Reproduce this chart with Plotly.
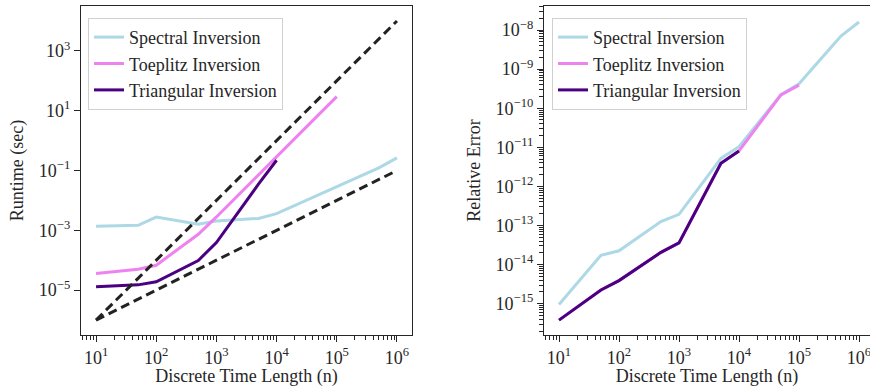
import plotly.graph_objects as go

# ---------------- data ----------------
n = [10, 50, 100, 500, 1000, 5000, 10000, 50000, 100000, 500000, 1000000]

runtime_spectral = [1.36e-3, 1.47e-3, 2.77e-3, 1.6e-3, 2.05e-3, 2.5e-3, 3.6e-3,
                    1.56e-2, 2.8e-2, 1.23e-1, 2.65e-1]
runtime_toeplitz = [3.6e-5, 5.0e-5, 6.8e-5, 7.4e-4, 2.8e-3, 7.4e-2, 2.95e-1, 7.4, 29.5]
runtime_triangular = [1.29e-5, 1.5e-5, 1.9e-5, 9.8e-5, 3.9e-4, 3.5e-2, 2.2e-1]

ref_n = [10, 1000000]
ref_linear = [1e-6, 1e-1]
ref_quadratic = [1e-6, 1e4]

error_spectral = [9.6e-16, 1.73e-14, 2.26e-14, 1.26e-13, 1.93e-13, 5.2e-12, 1.04e-11,
                  2.22e-10, 4.2e-10, 7.0e-9, 1.6e-8]
error_toeplitz = [3.8e-16, 2.24e-15, 3.9e-15, 2.06e-14, 3.6e-14, 3.9e-12, 8.1e-12,
                  2.2e-10, 3.9e-10]
error_triangular = [3.8e-16, 2.24e-15, 3.9e-15, 2.06e-14, 3.6e-14, 3.9e-12, 8.1e-12]

x_exponents = [1, 2, 3, 4, 5, 6]
runtime_exponents = [-5, -3, -1, 1, 3]
error_exponents = [-15, -14, -13, -12, -11, -10, -9, -8]

names = ["Spectral Inversion", "Toeplitz Inversion", "Triangular Inversion"]
colors = ["#ADD8E6", "#EE82EE", "#4B0082"]

# ---------------- styling ----------------
FONT = "Liberation Serif"
INK = "#262626"
W, H = 870, 387


def sup(e):
    s = str(e).replace("-", "\u2212")
    return f"10<sup>{s}</sup>"


def minor_vals(lo, hi):
    return [k * 10.0 ** e for e in range(lo, hi) for k in range(2, 10)]


def axis(exps, rng, minor=None, mirror=True):
    d = dict(type="log", range=rng, showline=True, linecolor=INK, linewidth=1.25,
             mirror=mirror, ticks="outside", ticklen=6, tickwidth=1.25, tickcolor=INK,
             showgrid=False, zeroline=False, ticklabeloverflow="allow",
             tickmode="array", tickvals=[10.0 ** e for e in exps],
             ticktext=[sup(e) for e in exps],
             tickfont=dict(family=FONT, size=18, color=INK))
    if minor is not None:
        d["minor"] = dict(tickmode="array", tickvals=minor, ticks="outside", ticklen=3.5,
                          tickwidth=1, tickcolor=INK, showgrid=False)
    return d


fig = go.Figure()

# left panel: runtime
for name, col, ys in zip(names, colors, [runtime_spectral, runtime_toeplitz, runtime_triangular]):
    fig.add_trace(go.Scatter(x=n[:len(ys)], y=ys, mode="lines", name=name,
                             line=dict(color=col, width=3), xaxis="x", yaxis="y",
                             legend="legend"))
for ys in [ref_quadratic, ref_linear]:
    fig.add_trace(go.Scatter(x=ref_n, y=ys, mode="lines", showlegend=False,
                             line=dict(color="#222222", width=3, dash="9px,5px"),
                             xaxis="x", yaxis="y"))

# right panel: error
for name, col, ys in zip(names, colors, [error_spectral, error_toeplitz, error_triangular]):
    fig.add_trace(go.Scatter(x=n[:len(ys)], y=ys, mode="lines", name=name,
                             line=dict(color=col, width=3), xaxis="x2", yaxis="y2",
                             legend="legend2"))

px_left = [81, 412]
px_right = [544, 870]
px_top, px_bottom = 6, 335

legend_style = dict(font=dict(family=FONT, size=18, color=INK), bgcolor="white",
                    bordercolor="#d0d0d0", borderwidth=1, xanchor="left", yanchor="top",
                    itemwidth=30, tracegroupgap=0)

fig.update_layout(
    width=W, height=H,
    margin=dict(l=0, r=0, t=px_top, b=H - px_bottom, pad=0),
    paper_bgcolor="white", plot_bgcolor="white",
    font=dict(family=FONT, size=18, color=INK),
    xaxis=dict(axis(x_exponents, [0.75, 6.25], minor_vals(0, 7)),
               domain=[px_left[0] / W, px_left[1] / W], anchor="y",
               title=dict(text="Discrete Time Length (n)", standoff=7,
                          font=dict(family=FONT, size=18, color=INK))),
    yaxis=dict(axis(runtime_exponents, [-6.5, 4.5]), anchor="x",
               domain=[0, 1],
               title=dict(text="Runtime (sec)", standoff=10,
                          font=dict(family=FONT, size=18, color=INK))),
    xaxis2=dict(axis(x_exponents, [0.75, 0.75 + (px_right[1] - px_right[0]) / 60.0],
                     minor_vals(0, 7)),
                domain=[px_right[0] / W, 1.0], anchor="y2",
                title=dict(text="Discrete Time Length (n)", standoff=7,
                           font=dict(family=FONT, size=18, color=INK))),
    yaxis2=dict(axis(error_exponents, [-15.80, -7.386], minor_vals(-16, -7), mirror=False),
                anchor="x2", domain=[0, 1],
                title=dict(text="Relative Error", standoff=10,
                           font=dict(family=FONT, size=18, color=INK))),
    legend=dict(legend_style, x=88 / W, y=1 - 14 / H),
    legend2=dict(legend_style, x=552 / W, y=1 - 14 / H),
)

fig.write_html("out.html")
